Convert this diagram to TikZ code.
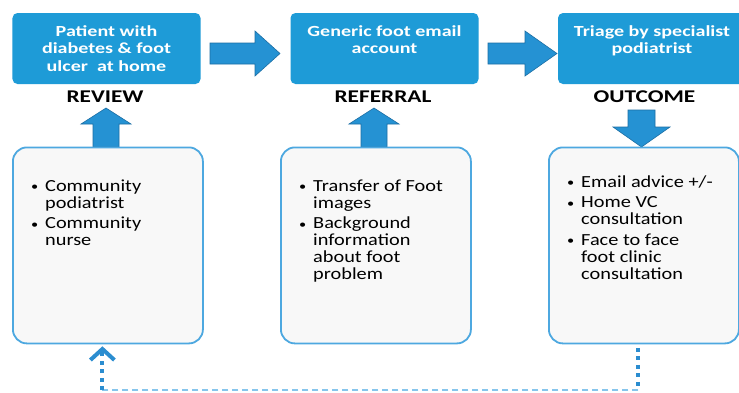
\documentclass[tikz,border=0pt]{standalone}
\usepackage{fontspec}
\setmainfont{Carlito}[FakeStretch=1.2, BoldFeatures={FakeStretch=1.3}]
\usetikzlibrary{arrows.meta,calc}
\definecolor{topblue}{HTML}{1E9BD7}
\definecolor{arrblue}{HTML}{2592D3}
\definecolor{arredge}{HTML}{1C6EA4}
\definecolor{boxedge}{HTML}{4DA8E0}
\definecolor{boxfill}{HTML}{F8F8F8}
\definecolor{dotblue}{HTML}{2B8DD0}
\definecolor{dashblue}{HTML}{86C5EC}
\newcommand\bitem[1]{\par\hangindent=14bp\hangafter=1\noindent\makebox[14bp][l]{\raisebox{0.8bp}{\fontsize{12}{12}\selectfont\textbullet}}#1}
\newcommand\blist[1]{\parbox[t]{165bp}{\setlength\parskip{3.5bp}#1}}
\begin{document}
\begin{tikzpicture}[x=1bp,y=-1bp,
 topbox/.style={fill=topblue, rounded corners=5bp, minimum width=188bp, minimum height=71bp, inner sep=0pt, text=white, font=\bfseries\fontsize{15.5}{17.5}\selectfont, align=center},
 headlbl/.style={font=\bfseries\fontsize{18}{18}\selectfont, anchor=base, inner sep=0pt},
 bottombox/.style={draw=boxedge, line width=1.8bp, fill=boxfill, rounded corners=14bp, minimum width=190bp, minimum height=196bp, inner sep=0pt, anchor=north west},
 listtext/.style={anchor=base west, inner sep=0pt, font=\fontsize{17}{17}\selectfont},
 blockarrow/.style={fill=arrblue, draw=arredge, line width=0.6bp, line join=miter},
 dotv/.style={draw=dotblue, line width=4bp, dash pattern=on 4bp off 4.5bp},
 dashh/.style={draw=dashblue, line width=1.3bp, dash pattern=on 6bp off 4bp}]
\useasboundingbox (0,0) rectangle (739,392);
\fill[white] (0,0) rectangle (739,392);

% top boxes
\node[topbox] (t1) at (106.5,48.5) {Patient with\\diabetes \& foot\\ulcer~ at home};
\node[topbox] (t2) at (384.5,48.5) {Generic foot email\\account\\\mbox{}};
\node[topbox] (t3) at (652,48.5) {Triage by specialist\\podiatrist\\\mbox{}};

% right block arrows
\filldraw[blockarrow] (210,43) -- (255,43) -- (255,31) -- (280,53.5) -- (255,76) -- (255,64) -- (210,64) -- cycle;
\filldraw[blockarrow] (488,43) -- (525,43) -- (525,31) -- (557,53.5) -- (525,76) -- (525,64) -- (488,64) -- cycle;

% headers
\node[headlbl] (h1) at (105,102) {REVIEW};
\node[headlbl] (h2) at (383,102) {REFERRAL};
\node[headlbl] (h3) at (644.5,102) {OUTCOME};

% vertical block arrows
\filldraw[blockarrow] (93,147) -- (93,124) -- (81,124) -- (106,108) -- (131,124) -- (119,124) -- (119,147) -- cycle;
\filldraw[blockarrow] (361,147) -- (361,124) -- (349,124) -- (374,108) -- (399,124) -- (387,124) -- (387,147) -- cycle;
\filldraw[blockarrow] (628,110) -- (655,110) -- (655,127) -- (670,127) -- (641.5,147) -- (613,127) -- (628,127) -- cycle;

% bottom boxes
\node[bottombox] (b1) at (12,146.5) {};
\node[bottombox] (b2) at (280,146.5) {};
\node[bottombox] (b3) at (548,146.5) {};

\node[listtext] (l1) at ([shift={(19,45)}]b1.north west) {\blist{\bitem{Community\\podiatrist}\bitem{Community\\nurse}}};
\node[listtext] (l2) at ([shift={(19,45)}]b2.north west) {\blist{\bitem{Transfer of Foot\\images}\bitem{Background\\information\\about foot\\problem}}};
\node[listtext] (l3) at ([shift={(19,41)}]b3.north west) {\blist{\bitem{Email advice +/-}\bitem{Home VC\\consultation}\bitem{Face to face\\foot clinic\\consultation}}};

% feedback loop
\coordinate (s3) at ([xshift=-5.5bp]b3.south);
\coordinate (s1) at ([xshift=-5.5bp]b1.south);
\coordinate (c1) at (s3 |- 0,390);
\coordinate (c2) at (s1 |- 0,390);
\draw[dotv] ([yshift=-3.5bp]s3) -- (c1);
\draw[dashh] (c1) -- (c2);
\draw[dotv, -{Straight Barb[length=11bp, width=24bp]}] (c2) -- ([yshift=-2bp]s1);
\end{tikzpicture}
\end{document}
